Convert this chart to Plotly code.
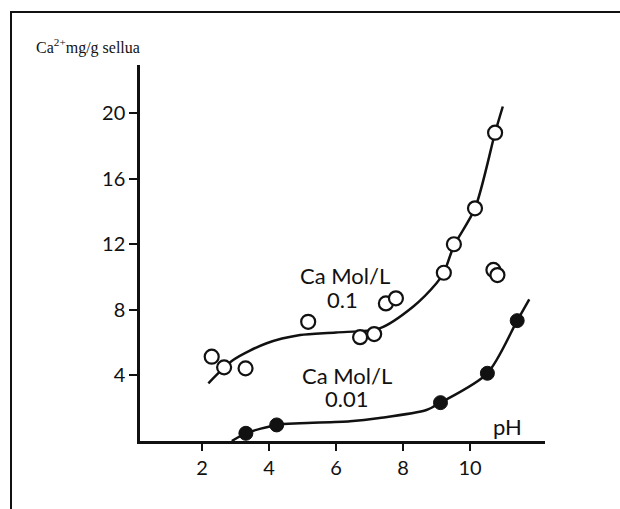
import plotly.graph_objects as go

# Measured points, Ca 0.1 mol/L (open circles)
ph_hi = [2.29, 2.66, 3.30, 5.17, 6.72, 7.14, 7.49, 7.79, 9.22, 9.52, 10.15, 10.75, 10.70, 10.82]
ca_hi = [5.14, 4.49, 4.43, 7.27, 6.33, 6.52, 8.39, 8.70, 10.26, 12.0, 14.19, 18.8, 10.43, 10.12]

# Measured points, Ca 0.01 mol/L (filled circles)
ph_lo = [3.31, 4.23, 9.12, 10.52, 11.41]
ca_lo = [0.47, 0.98, 2.34, 4.13, 7.34]

# Hand-drawn trend curves
curve_hi_x = [2.19, 2.93, 3.93, 4.93, 6.0, 7.3, 8.3, 9.0, 9.22, 9.52, 10.15, 10.75, 10.98]
curve_hi_y = [3.52, 4.94, 5.96, 6.46, 6.62, 6.87, 8.19, 9.62, 10.26, 11.9, 14.19, 18.8, 20.4]
curve_lo_x = [2.89, 3.31, 4.23, 4.93, 6.42, 7.3, 8.7, 9.12, 10.52, 11.41, 11.77]
curve_lo_y = [0.0, 0.47, 0.98, 1.08, 1.2, 1.4, 1.89, 2.34, 4.13, 7.34, 8.64]

x_ticks = [2, 4, 6, 8, 10]
y_ticks = [4, 8, 12, 16, 20]

fig = go.Figure()
line_style = dict(color="#111", width=2.5, shape="spline", smoothing=0.8)
fig.add_trace(go.Scatter(x=curve_hi_x, y=curve_hi_y, mode="lines", line=line_style, hoverinfo="skip"))
fig.add_trace(go.Scatter(x=curve_lo_x, y=curve_lo_y, mode="lines", line=line_style, hoverinfo="skip"))
fig.add_trace(go.Scatter(x=ph_hi, y=ca_hi, mode="markers",
                         marker=dict(symbol="circle", size=14, color="white",
                                     line=dict(color="#111", width=2.2))))
fig.add_trace(go.Scatter(x=ph_lo, y=ca_lo, mode="markers",
                         marker=dict(symbol="circle", size=14, color="#111",
                                     line=dict(color="#111", width=1))))

tick_font = dict(family="Lato, sans-serif", size=20, color="#111")
label_font = dict(family="Lato, sans-serif", size=22, color="#111")


def label(text, x, y):
    return dict(text=text, x=x, y=y, xanchor="center", yanchor="middle", showarrow=False,
                font=label_font)


fig.update_layout(
    width=620, height=509,
    margin=dict(l=140, r=75, t=65, b=68),
    paper_bgcolor="white", plot_bgcolor="white",
    showlegend=False,
    xaxis=dict(range=[0.149, 12.24], tickvals=x_ticks, ticktext=[str(v) for v in x_ticks],
               showgrid=False, zeroline=False, showline=True, linecolor="#111", linewidth=2.5,
               ticks="outside", ticklen=7, tickwidth=2, tickcolor="#111", tickfont=tick_font),
    yaxis=dict(range=[0, 22.93], tickvals=y_ticks, ticktext=[str(v) for v in y_ticks],
               showgrid=False, zeroline=False, showline=True, linecolor="#111", linewidth=2.5,
               ticks="outside", ticklen=8, tickwidth=2, tickcolor="#111", tickfont=tick_font),
    shapes=[dict(type="rect", xref="paper", yref="paper", x0=-0.3185, x1=1.25, y0=-0.25, y1=1.141,
                 line=dict(color="#111", width=2), fillcolor="rgba(0,0,0,0)", layer="below")],
    annotations=[
        dict(text="Ca<sup>2+</sup>mg/g sellua", xref="paper", yref="paper", x=-0.262, y=1.048,
             xanchor="left", yanchor="middle", showarrow=False,
             font=dict(family="Liberation Serif, Times New Roman, serif", size=16, color="#111")),
        label("Ca Mol/L", 6.28, 10.12),
        label("0.1", 6.2, 8.6),
        label("Ca Mol/L", 6.34, 4.02),
        label("0.01", 6.32, 2.62),
        label("pH", 11.13, 0.9),
    ],
)

fig.write_html("out.html")
